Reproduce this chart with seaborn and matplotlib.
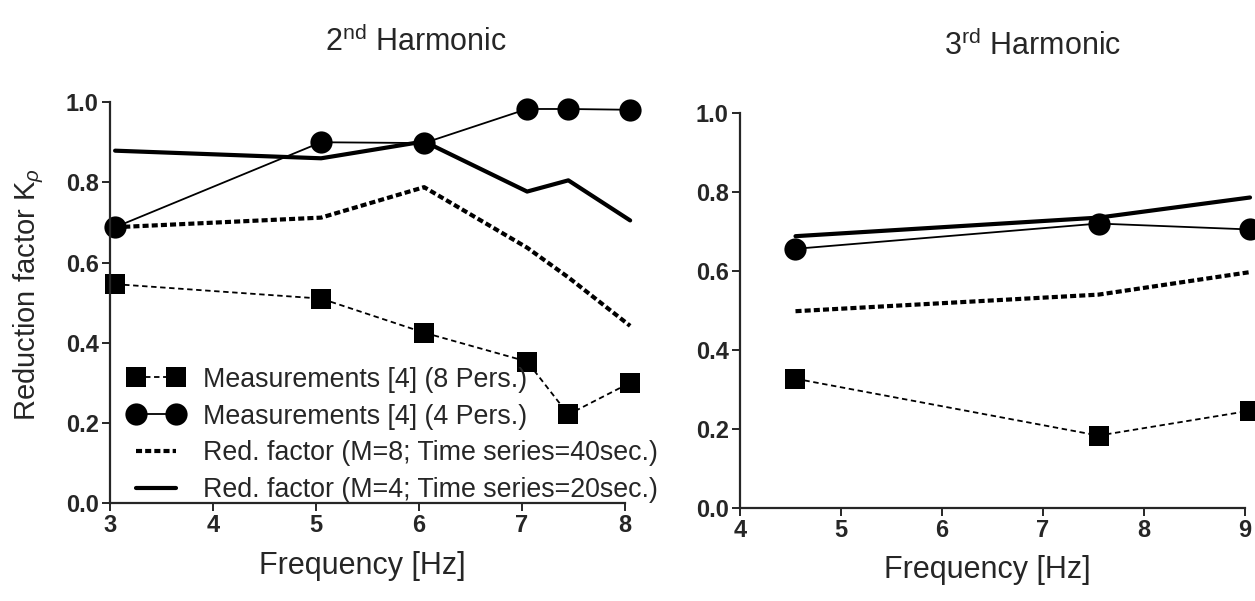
import matplotlib
matplotlib.use("Agg")
import matplotlib.pyplot as plt
import seaborn as sns

# 2nd harmonic panel
freq_2nd = [3.05, 5.05, 6.05, 7.05, 7.45, 8.05]
meas_8p_2nd = [0.546, 0.51, 0.425, 0.353, 0.221, 0.30]
meas_4p_2nd = [0.688, 0.90, 0.898, 0.983, 0.983, 0.981]
red_m8_2nd = [0.688, 0.712, 0.788, 0.637, 0.563, 0.442]
red_m4_2nd = [0.879, 0.86, 0.902, 0.777, 0.805, 0.705]

# 3rd harmonic panel
freq_3rd = [4.55, 7.55, 9.05]
meas_8p_3rd = [0.327, 0.183, 0.246]
meas_4p_3rd = [0.656, 0.72, 0.705]
red_m8_3rd = [0.498, 0.54, 0.597]
red_m4_3rd = [0.688, 0.735, 0.786]

labels = [
    "Measurements [4] (8 Pers.)",
    "Measurements [4] (4 Pers.)",
    "Red. factor (M=8; Time series=40sec.)",
    "Red. factor (M=4; Time series=20sec.)",
]

styles = [
    dict(marker="s", markersize=15, linewidth=1.3, linestyle=(0, (3, 2))),
    dict(marker="o", markersize=16, linewidth=1.3, linestyle="-"),
    dict(marker=None, linewidth=3.0, linestyle=(0, (1.45, 0.75))),
    dict(marker=None, linewidth=3.0, linestyle="-"),
]

sns.set_style("ticks")
plt.rcParams["font.family"] = ["Liberation Sans", "DejaVu Sans"]
plt.rcParams["mathtext.fontset"] = "custom"
plt.rcParams["mathtext.rm"] = "Liberation Sans"
plt.rcParams["mathtext.it"] = "Liberation Sans:italic"
plt.rcParams["axes.linewidth"] = 1.6

fig = plt.figure(figsize=(12.55, 6.01), dpi=100)
ax1 = fig.add_axes([0.0876, 0.163, 0.4104, 0.667])
ax2 = fig.add_axes([0.5896, 0.155, 0.4024, 0.657])


def draw(ax, freq, series, with_labels):
    for vals, st, lab in zip(series, styles, labels):
        sns.lineplot(x=freq, y=vals, ax=ax, color="black",
                     markeredgecolor="black", markerfacecolor="black",
                     markeredgewidth=0, clip_on=False,
                     label=lab if with_labels else None,
                     legend=with_labels, **st)


draw(ax1, freq_2nd, [meas_8p_2nd, meas_4p_2nd, red_m8_2nd, red_m4_2nd], True)
draw(ax2, freq_3rd, [meas_8p_3rd, meas_4p_3rd, red_m8_3rd, red_m4_3rd], False)

ax1.set_xlim(3, 8)
ax1.set_xticks(range(3, 9))
ax2.set_xlim(4, 9)
ax2.set_xticks(range(4, 10))

for ax in (ax1, ax2):
    ax.set_ylim(0, 1.0)
    ax.set_yticks([0.0, 0.2, 0.4, 0.6, 0.8, 1.0])
    ax.set_yticklabels(["0.0", "0.2", "0.4", "0.6", "0.8", "1.0"])
    ax.tick_params(direction="out", length=6, width=1.4, labelsize=17, pad=2)
    for t in ax.get_xticklabels() + ax.get_yticklabels():
        t.set_fontweight("bold")
    ax.set_xlabel("Frequency [Hz]", fontsize=22)
    ax.xaxis.set_label_coords(0.49, -0.12)
sns.despine(fig)

ax1.set_ylabel(r"Reduction factor K$_\rho$", fontsize=21)
ax1.yaxis.set_label_coords(-0.125, 0.52)
ax2.set_ylabel("")

ax1.text(0.595, 1.15, r"2$^{\rm nd}$ Harmonic", transform=ax1.transAxes,
         ha="center", va="center", fontsize=22)
ax2.text(0.58, 1.17, r"3$^{\rm rd}$ Harmonic", transform=ax2.transAxes,
         ha="center", va="center", fontsize=22)

ax1.legend(loc="lower left", bbox_to_anchor=(0.035, 0.0), frameon=False,
           fontsize=19.3, handlelength=2.1, handletextpad=0.7,
           labelspacing=0.4, numpoints=2, borderaxespad=0, borderpad=0)

fig.savefig("out.png", dpi=100)
